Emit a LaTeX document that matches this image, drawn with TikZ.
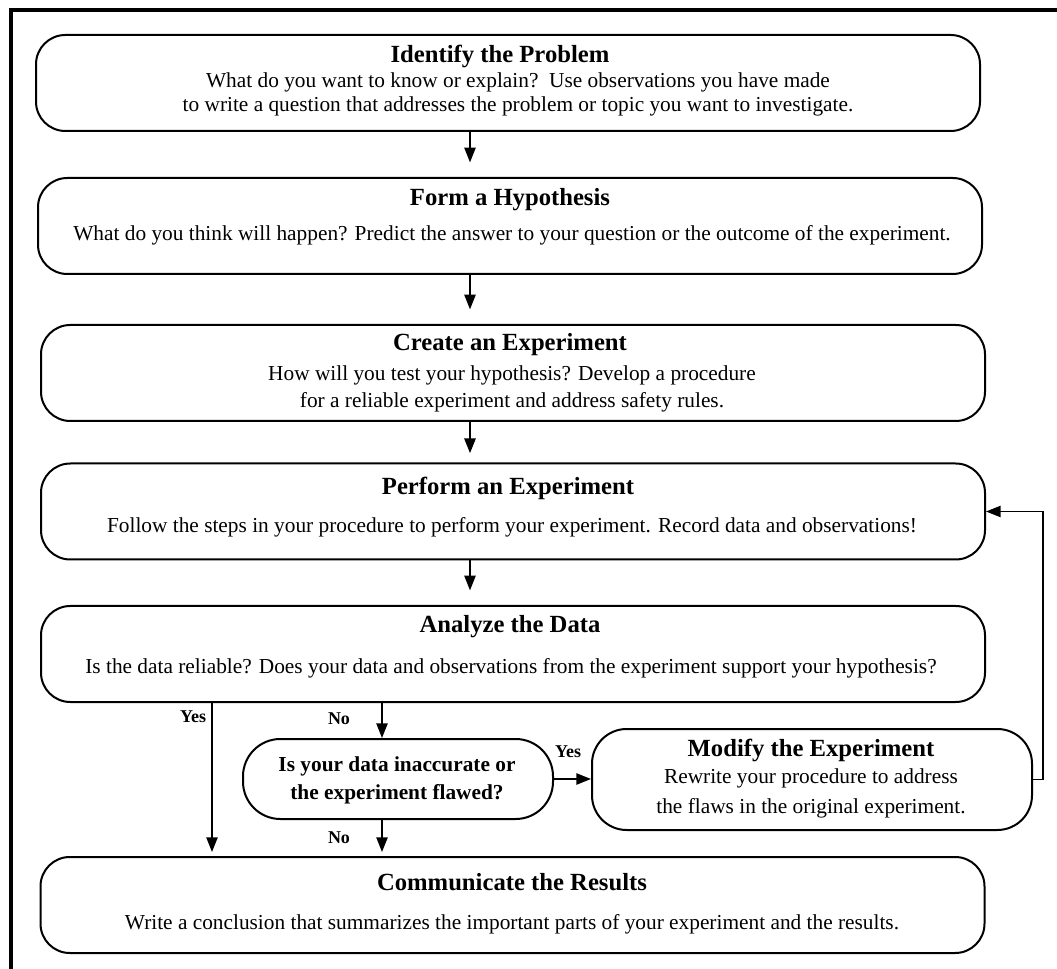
\documentclass[tikz,border=0pt]{standalone}
\usepackage{fontspec}
\setmainfont{Liberation Serif}
\usetikzlibrary{arrows.meta}
\begin{document}
\begin{tikzpicture}[x=0.75pt,y=-0.75pt,
  stepbox/.style={draw, line width=1.5pt, rounded corners=22pt, minimum width=708pt, minimum height=72pt, inner sep=0pt},
  title/.style={font=\fontsize{18.5}{22}\selectfont\bfseries, anchor=base, inner sep=0pt},
  body/.style={font=\fontsize{16}{18}\selectfont, anchor=base, inner sep=0pt, align=center},
  lbl/.style={font=\fontsize{13.5}{15}\selectfont\bfseries, anchor=base, inner sep=0pt},
  conn/.style={line width=1.1pt, -{Triangle[length=11pt,width=8.5pt]}},
  frame/.style={line width=3pt}
]
\useasboundingbox (0,0) rectangle (1057,969);
\draw[frame] (10.5,990) -- (10.5,10.5) -- (1080,10.5);

% main steps
\node[stepbox] (b1) at (508,83) {};
\node[title] (t1) at (500,63) {Identify the Problem};
\node[body] (d1) at (518,112) {What do you want to know or explain?\ \ Use observations you have made\\to write a question that addresses the problem or topic you want to investigate.};

\node[stepbox] (b2) at (510,226) {};
\node[title] (t2) at (510,206) {Form a Hypothesis};
\node[body] (d2) at (512,241) {What do you think will happen? Predict the answer to your question or the outcome of the experiment.};

\node[stepbox] (b3) at (513,373) {};
\node[title] (t3) at (510,351) {Create an Experiment};
\node[body] (d3) at (512,408) {How will you test your hypothesis? Develop a procedure\\[2.25pt]for a reliable experiment and address safety rules.};

\node[stepbox] (b4) at (513,511.5) {};
\node[title] (t4) at (508,495) {Perform an Experiment};
\node[body] (d4) at (512,533) {Follow the steps in your procedure to perform your experiment. Record data and observations!};

\node[stepbox] (b5) at (513,654) {};
\node[title] (t5) at (510,633) {Analyze the Data};
\node[body] (d5) at (511,673) {Is the data reliable? Does your data and observations from the experiment support your hypothesis?};

\node[stepbox, rounded corners=28pt, minimum width=232.5pt, minimum height=60pt] (dec) at (398,779) {};
\node[body, font=\fontsize{16}{21}\selectfont\bfseries] (dq) at (397,799) {Is your data inaccurate or\\the experiment flawed?};

\node[stepbox, rounded corners=26pt, minimum width=330pt, minimum height=75.75pt] (mod) at (812,779.5) {};
\node[title] (tm) at (811,756) {Modify the Experiment};
\node[body] (dm) at (811,813) {Rewrite your procedure to address\\[4.5pt]the flaws in the original experiment.};

\node[stepbox] (b8) at (512.5,905) {};
\node[title] (t8) at (512,890) {Communicate the Results};
\node[body] (d8) at (512,929) {Write a conclusion that summarizes the important parts of your experiment and the results.};

% connectors
\coordinate (cx) at (470,0);
\coordinate (yx) at (212,0);
\coordinate (nx) at (382,0);
\draw[conn, shorten >=11pt] (b1.south -| cx) -- (b2.north -| cx);
\draw[conn, shorten >=11pt] (b2.south -| cx) -- (b3.north -| cx);
\draw[conn, shorten >=7pt] (b3.south -| cx) -- (b4.north -| cx);
\draw[conn, shorten >=11pt] (b4.south -| cx) -- (b5.north -| cx);
\draw[conn, shorten >=3pt] (b5.south -| yx) -- (b8.north -| yx);
\draw[conn] (b5.south -| nx) -- (dec.north -| nx);
\draw[conn, shorten >=3pt] (dec.south -| nx) -- (b8.north -| nx);
\draw[conn] (dec.east) -- (dec.east -| mod.west);
\draw[conn] (mod.east) -- ++(10,0) |- (b4.east);

% labels
\node[lbl] (l1) at (193,722) {Yes};
\node[lbl] (l2) at (339,724) {No};
\node[lbl] (l3) at (568,757) {Yes};
\node[lbl] (l4) at (339,843) {No};
\end{tikzpicture}
\end{document}
